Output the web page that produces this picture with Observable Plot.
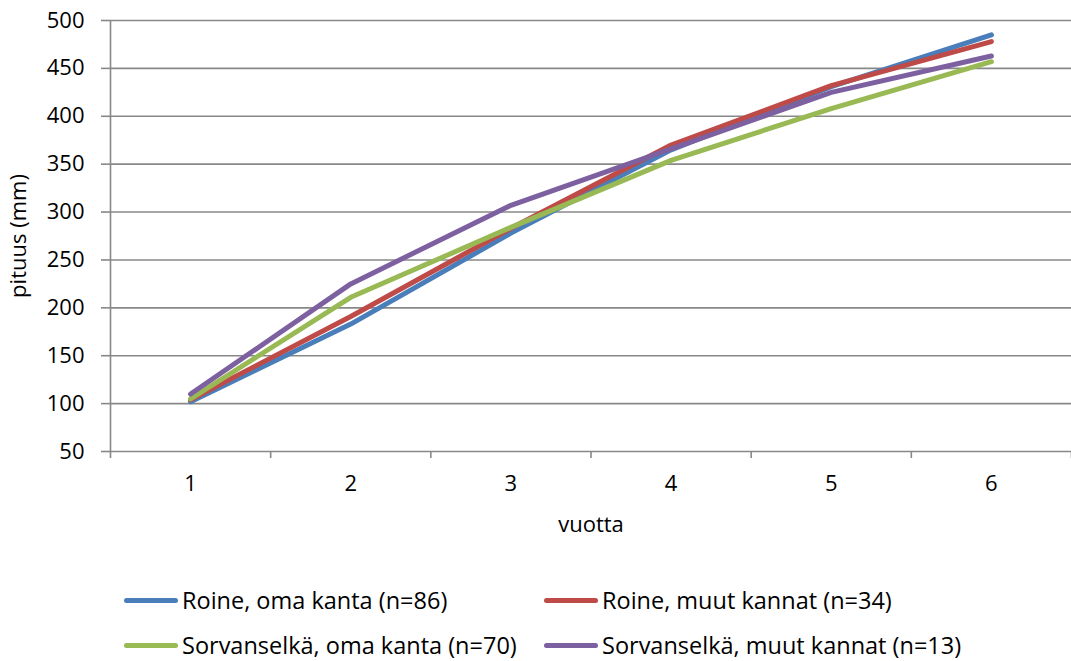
<!DOCTYPE html>
<html>
<head>
<meta charset="utf-8">
<script src="https://cdn.jsdelivr.net/npm/d3@7"></script>
<script src="https://cdn.jsdelivr.net/npm/@observablehq/plot@0.6"></script>
<style>
  body { margin: 0; background: #fff; font-family: "Open Sans", Lato, sans-serif; }
  #wrap { position: relative; width: 1071px; height: 661px; overflow: hidden; }
  #legend { position: absolute; left: 0; top: 0; width: 1071px; height: 661px; pointer-events: none; }
  .item { position: absolute; display: flex; align-items: center; font-size: 23.5px; color: #000; white-space: nowrap; line-height: 26px; }
  .sw { width: 54px; height: 5px; border-radius: 3px; margin-right: 4px; }
</style>
</head>
<body>
<div id="wrap"><div id="chart"></div><div id="legend"></div></div>
<script>
const years = [1, 2, 3, 4, 5, 6];
const seriesNames = [
  "Roine, oma kanta (n=86)",
  "Roine, muut kannat (n=34)",
  "Sorvanselkä, oma kanta (n=70)",
  "Sorvanselkä, muut kannat (n=13)"
];
const roineOma = [102, 183, 278, 365, 431, 485];
const roineMuut = [104, 191, 283, 370, 432, 478];
const sorvOma = [105, 211, 284, 354, 408, 457];
const sorvMuut = [110, 225, 307, 366, 425, 463];
const colors = ["#4A7EBB", "#BE4B48", "#98B954", "#7D60A0"];
const yTicks = [50, 100, 150, 200, 250, 300, 350, 400, 450, 500];
const xBoundaries = [0.5, 1.5, 2.5, 3.5, 4.5, 5.5, 6.5];

const allSeries = [roineOma, roineMuut, sorvOma, sorvMuut];
const data = [];
allSeries.forEach((vals, i) => {
  vals.forEach((v, j) => data.push({series: seriesNames[i], year: years[j], value: v}));
});

const chart = Plot.plot({
  width: 1071,
  height: 545,
  marginLeft: 110,
  marginRight: 0,
  marginTop: 20,
  marginBottom: 94,
  style: {fontSize: "22px", fontFamily: "'Open Sans', Lato, sans-serif", color: "#000", background: "#fff"},
  x: {type: "linear", domain: [0.5, 6.5]},
  y: {domain: [50, 500]},
  color: {domain: seriesNames, range: colors},
  marks: [
    Plot.ruleY(yTicks, {stroke: "#888", strokeWidth: 1.6}),
    Plot.ruleX([0.5], {stroke: "#888", strokeWidth: 1.6}),
    Plot.axisY({ticks: yTicks, tickSize: 9, tickPadding: 17, stroke: "#888", strokeWidth: 1.6,
      label: "pituus (mm)", labelAnchor: "center", labelOffset: 100, labelArrow: "none", fill: "#000"}),
    Plot.axisX({ticks: xBoundaries, tickFormat: () => "", tickSize: 7, stroke: "#888", strokeWidth: 1.6, label: null}),
    Plot.axisX({ticks: years, tickSize: 0, tickPadding: 24, tickFormat: d => String(d),
      label: "vuotta", labelAnchor: "center", labelOffset: 80, labelArrow: "none", fill: "#000"}),
    Plot.line(data, {x: "year", y: "value", stroke: "series", z: "series", strokeWidth: 5,
      strokeLinecap: "round", strokeLinejoin: "round"})
  ]
});
document.getElementById("chart").appendChild(chart);

const legend = document.getElementById("legend");
const positions = [[124, 600], [544, 600], [124, 645], [544, 645]];
seriesNames.forEach((name, i) => {
  const it = document.createElement("div");
  it.className = "item";
  it.style.left = positions[i][0] + "px";
  it.style.top = (positions[i][1] - 13) + "px";
  const sw = document.createElement("div");
  sw.className = "sw";
  sw.style.background = colors[i];
  const tx = document.createElement("span");
  tx.textContent = name;
  it.appendChild(sw);
  it.appendChild(tx);
  legend.appendChild(it);
});
</script>
</body>
</html>
